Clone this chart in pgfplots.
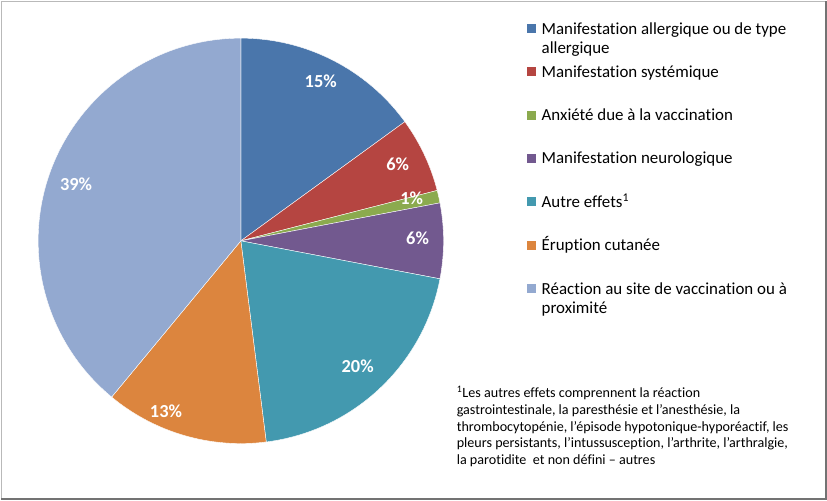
\documentclass[border=0pt]{standalone}
\usepackage{pgfplots}
\pgfplotsset{compat=1.18}
\usepackage{pgfplotstable}
\usepackage{fontspec}
\setmainfont{Carlito}[Ligatures=NoCommon]

\definecolor{c0}{HTML}{4A76AB}
\definecolor{c1}{HTML}{B54541}
\definecolor{c2}{HTML}{8BAA4E}
\definecolor{c3}{HTML}{72598F}
\definecolor{c4}{HTML}{4399AF}
\definecolor{c5}{HTML}{DC853E}
\definecolor{c6}{HTML}{93A9D0}

% share (%), label position in pixels (y measured from the bottom)
\pgfplotstableread{
value lx  ly
15    320 420
6     397 337
1     411 303
6     417 263
20    357 134
13    165 89
39    75  317
}\piedata

\newcommand\piefont{\bfseries\fontsize{13.8}{16}\selectfont}
\newcommand\legfont{\fontsize{12.7}{15}\selectfont}
\newcommand\notefont{\fontsize{10.6}{12}\selectfont}

\begin{document}
\begin{tikzpicture}
\begin{axis}[x=0.75pt, y=0.75pt, xmin=0, xmax=827, ymin=0, ymax=500,
  scale only axis, hide axis, clip=false]
  \path (axis cs:0,0) rectangle (axis cs:827,500);
  % frame
  \draw[gray!55, line width=0.75pt] (axis cs:0.5,0.5) rectangle (axis cs:826.5,499.5);
  \draw[gray!90!black, line width=1.8pt] (axis cs:825.8,500) -- (axis cs:825.8,1.2) -- (axis cs:0,1.2);

  % pie slices, clockwise from 12 o'clock
  \xdef\angA{90}
  \pgfplotsforeachungrouped \i in {0,...,6}{%
    \pgfplotstablegetelem{\i}{value}\of\piedata \let\pv\pgfplotsretval
    \pgfplotstablegetelem{\i}{lx}\of\piedata \let\plx\pgfplotsretval
    \pgfplotstablegetelem{\i}{ly}\of\piedata \let\ply\pgfplotsretval
    \pgfmathsetmacro\angB{\angA-3.6*\pv}
    \edef\temp{\noexpand\fill[c\i, draw=white, line width=0.3pt] (axis cs:240,260) -- ++(\angA:152.25pt)
      arc[start angle=\angA, end angle=\angB, radius=152.25pt] -- cycle;
      \noexpand\node[font=\noexpand\piefont, text=white] at (axis cs:\plx,\ply) {\pv\noexpand\%};}
    \temp
    \xdef\angA{\angB}
  }

  % legend
  \pgfplotsforeachungrouped \i/\yy in {0/467, 1/424, 2/380.5, 3/337, 4/293.5, 5/250, 6/206.5}{%
    \edef\temp{\noexpand\fill[c\i] (axis cs:527,\yy+1) rectangle (axis cs:536,\yy+10);}
    \temp
  }
  \node[anchor=base west, font=\legfont, inner sep=0] at (axis cs:541,467) {Manifestation allergique ou de type};
  \node[anchor=base west, font=\legfont, inner sep=0] at (axis cs:541,448) {allergique};
  \node[anchor=base west, font=\legfont, inner sep=0] at (axis cs:541,424) {Manifestation systémique};
  \node[anchor=base west, font=\legfont, inner sep=0] at (axis cs:541,380.5) {Anxiété due à la vaccination};
  \node[anchor=base west, font=\legfont, inner sep=0] at (axis cs:541,337) {Manifestation neurologique};
  \node[anchor=base west, font=\legfont, inner sep=0] at (axis cs:541,293.5) {Autre effets\textsuperscript{1}};
  \node[anchor=base west, font=\legfont, inner sep=0] at (axis cs:541,250) {Éruption cutanée};
  \node[anchor=base west, font=\legfont, inner sep=0] at (axis cs:541,206.5) {Réaction au site de vaccination ou à};
  \node[anchor=base west, font=\legfont, inner sep=0] at (axis cs:541,187.5) {proximité};

  % footnote
  \node[anchor=base west, font=\notefont, inner sep=0] at (axis cs:456,103) {\textsuperscript{1}Les autres effets comprennent la réaction};
  \node[anchor=base west, font=\notefont, inner sep=0] at (axis cs:456,86.2) {gastrointestinale, la paresthésie et l’anesthésie, la};
  \node[anchor=base west, font=\notefont, inner sep=0] at (axis cs:456,69.5) {thrombocytopénie, l'épisode hypotonique-hyporéactif, les};
  \node[anchor=base west, font=\notefont, inner sep=0] at (axis cs:456,52.8) {pleurs persistants, l’intussusception, l’arthrite, l’arthralgie,};
  \node[anchor=base west, font=\notefont, inner sep=0] at (axis cs:456,36) {la parotidite\ \ et non défini -- autres};
\end{axis}
\end{tikzpicture}
\end{document}
